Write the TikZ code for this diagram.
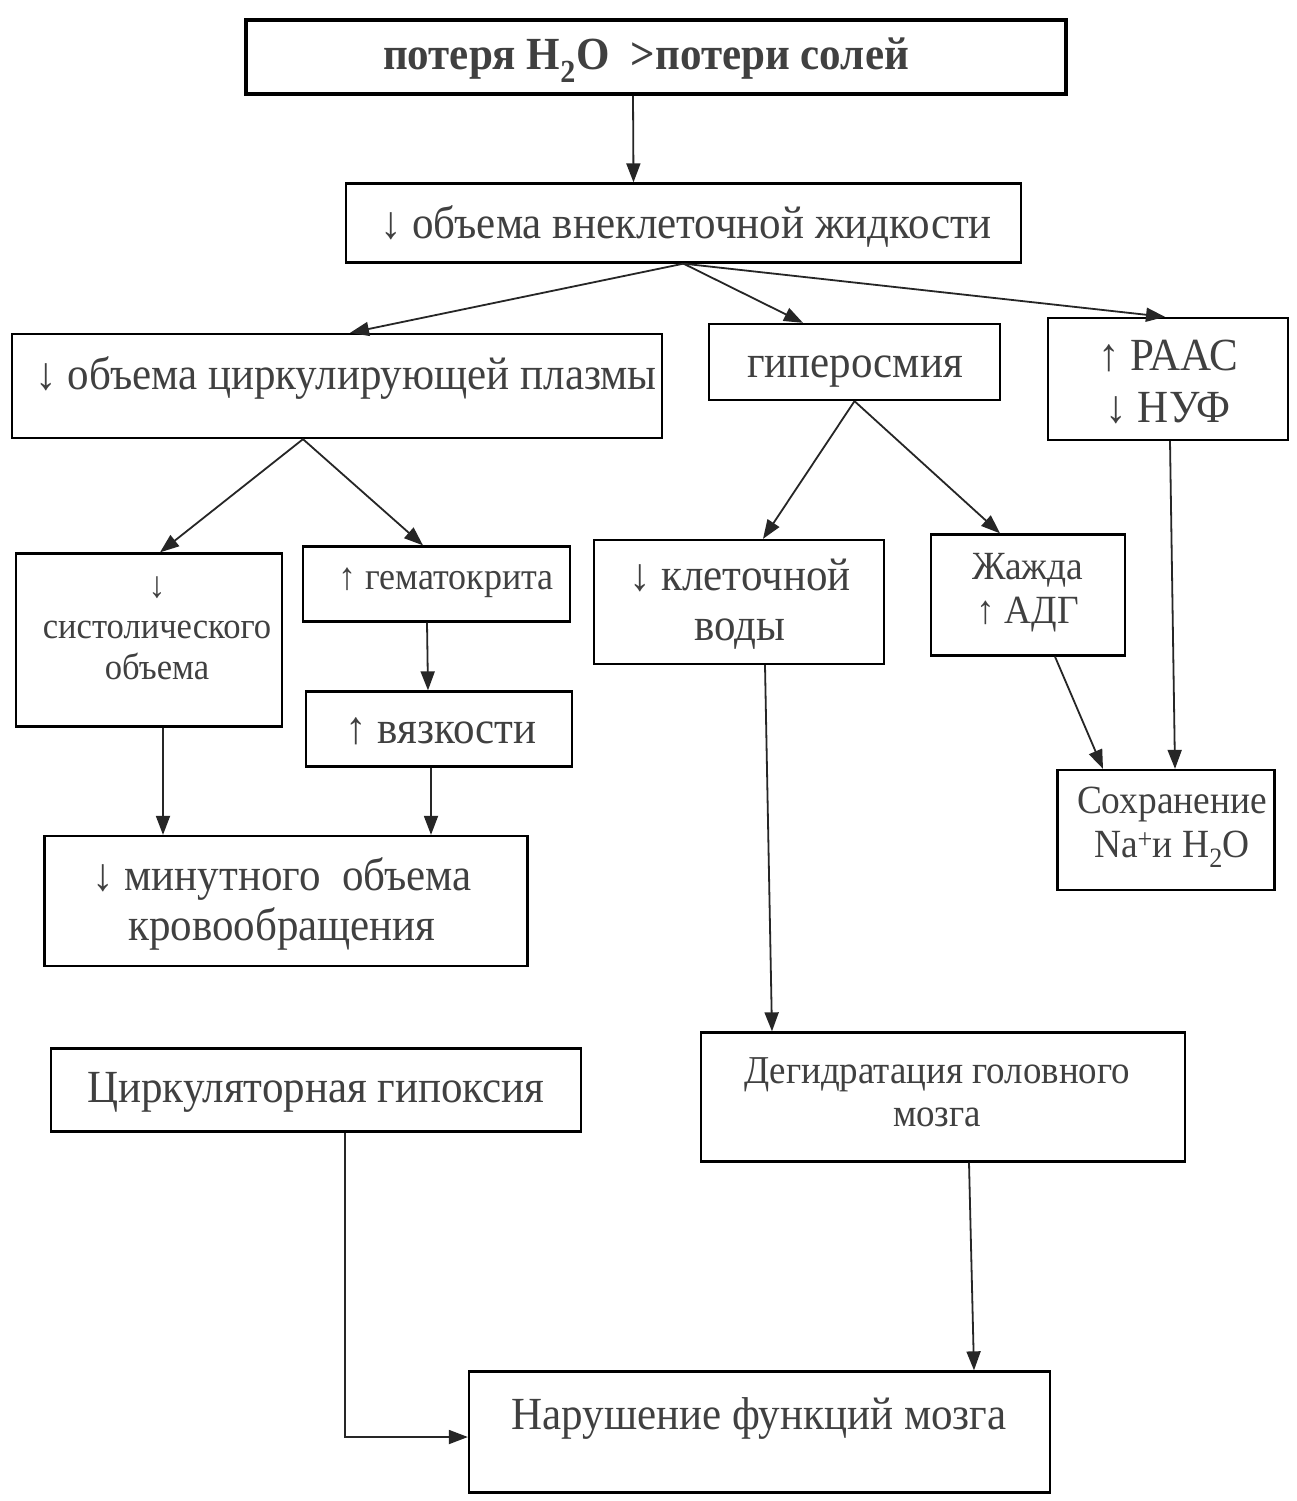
\documentclass[tikz,border=0pt]{standalone}
\usepackage{fontspec}
\setmainfont{Liberation Serif}[FakeStretch=0.935]
\usetikzlibrary{arrows.meta}
\definecolor{txt}{gray}{0.25}
\newcommand\mainf{\fontsize{46}{50}\selectfont}
\newcommand\smallf{\fontsize{37}{41}\selectfont}
\begin{document}
\begin{tikzpicture}[x=1pt,y=-1pt,
  box/.style={draw=black, line width=2.3pt, inner sep=0pt, fill=none},
  lbl/.style={inner sep=0pt, text=txt, align=center, font=\mainf},
  slbl/.style={inner sep=0pt, text=txt, align=center, font=\smallf},
  arr/.style={draw=black!85, line width=1.8pt, -{Triangle[length=19pt,width=14pt]}}]
\path[use as bounding box, fill=white] (0,0) rectangle (1296,1501);
% boxes
\node[box, line width=3.6pt, minimum width=820pt, minimum height=74pt] (b1) at (656,57) {};
\node[box, minimum width=675pt, minimum height=79pt] (b2) at (683.5,223) {};
\node[box, minimum width=650pt, minimum height=104pt] (b3) at (337,386) {};
\node[box, minimum width=291pt, minimum height=76pt] (b4) at (854.5,362) {};
\node[box, minimum width=240pt, minimum height=122pt] (b5) at (1168,379) {};
\node[box, minimum width=266pt, minimum height=173pt] (b6) at (149,640) {};
\node[box, minimum width=267pt, minimum height=75pt] (b7) at (436.5,584) {};
\node[box, minimum width=266pt, minimum height=75pt] (b8) at (439,729) {};
\node[box, minimum width=483pt, minimum height=130pt] (b9) at (286,901) {};
\node[box, minimum width=290pt, minimum height=124pt] (b10) at (739,602) {};
\node[box, minimum width=194pt, minimum height=121pt] (b11) at (1028,595) {};
\node[box, minimum width=217pt, minimum height=120pt] (b12) at (1166,830) {};
\node[box, minimum width=530pt, minimum height=83pt] (b13) at (316,1090) {};
\node[box, minimum width=484pt, minimum height=129pt] (b14) at (943,1097) {};
\node[box, minimum width=581pt, minimum height=121pt] (b15) at (759.5,1432) {};
% labels
\node[lbl, font=\mainf\bfseries] (t1) at (646,60) {потеря H\textsubscript{2}O\ \ >потери солей};
\node[lbl] (t2) at (686,226) {↓ объема внеклеточной жидкости};
\node[lbl] (t3) at (346,378) {↓ объема циркулирующей плазмы};
\node[lbl] (t4) at (855,372) {гиперосмия};
\node[lbl] (t5) at (1168,382) {↑ РААС\\[2pt]↓ НУФ};
\node[slbl] (t6) at (157,628) {↓\\систолического\\объема};
\node[slbl, font=\fontsize{38.5}{42}\selectfont] (t7) at (446,583) {↑ гематокрита};
\node[lbl] (t8) at (441,731) {↑ вязкости};
\node[lbl] (t9) at (282,904) {↓ минутного\ \ объема\\кровообращения};
\node[lbl] (t10) at (740,604) {↓ клеточной\\воды};
\node[slbl, font=\fontsize{40}{44}\selectfont] (t11) at (1028,593) {Жажда\\↑ АДГ};
\node[slbl, font=\fontsize{40}{44}\selectfont] (t12) at (1172,827) {Сохранение\\Na\textsuperscript{+}и H\textsubscript{2}O};
\node[lbl] (t13) at (316,1092) {Циркуляторная гипоксия};
\node[slbl, font=\fontsize{39.5}{43}\selectfont] (t14) at (937,1092) {Дегидратация головного\\мозга};
\node[lbl] (t15) at (759,1418) {Нарушение функций мозга};
% connectors
\draw[arr] ([xshift=-23pt]b1.south) -- ([xshift=-50pt]b2.north);
\draw[arr] (b2.south) -- ([xshift=13pt]b3.north);
\draw[arr] (b2.south) -- ([xshift=-51.5pt]b4.north);
\draw[arr] (b2.south) -- ([xshift=-3pt]b5.north);
\draw[arr] ([xshift=-34pt]b3.south) -- ([xshift=11pt]b6.north);
\draw[arr] ([xshift=-34pt]b3.south) -- ([xshift=-13.5pt]b7.north);
\draw[arr] (b4.south) -- ([xshift=24pt]b10.north);
\draw[arr] (b4.south) -- ([xshift=-28pt]b11.north);
\draw[arr] ([xshift=2pt]b5.south) -- ([xshift=9pt]b12.north);
\draw[arr] ([xshift=27pt]b11.south) -- ([xshift=-63pt]b12.north);
\draw[arr] ([xshift=-9.5pt]b7.south) -- ([xshift=-11pt]b8.north);
\draw[arr] ([xshift=14pt]b6.south) -- ([xshift=-123pt]b9.north);
\draw[arr] ([xshift=-8pt]b8.south) -- ([xshift=145pt]b9.north);
\draw[arr] ([xshift=26pt]b10.south) -- ([xshift=-171pt]b14.north);
\draw[arr] ([xshift=26pt]b14.south) -- ([xshift=214.5pt]b15.north);
\draw[arr] ([xshift=29pt]b13.south) |- ([yshift=-5pt]b15.west);
\end{tikzpicture}
\end{document}
